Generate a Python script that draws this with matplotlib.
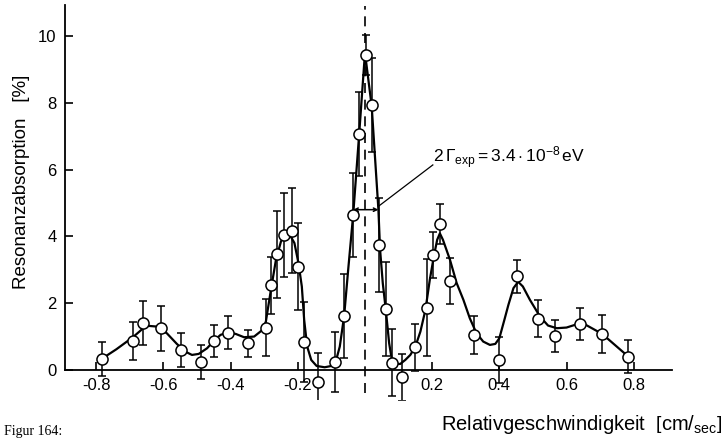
import matplotlib
matplotlib.use("Agg")
import matplotlib.pyplot as plt

plt.rcParams["font.family"] = ["Liberation Sans", "DejaVu Sans"]
plt.rcParams["mathtext.fontset"] = "custom"
plt.rcParams["mathtext.rm"] = "Liberation Sans"
plt.rcParams["mathtext.it"] = "Liberation Sans:italic"

# measured points: velocity [cm/sec], absorption [%], error
vel = [-0.784, -0.691, -0.660, -0.608, -0.549, -0.488, -0.449, -0.407, -0.347,
       -0.295, -0.280, -0.262, -0.241, -0.218, -0.200, -0.181, -0.139, -0.089,
       -0.062, -0.035, -0.017, 0.003, 0.020, 0.043, 0.0625, 0.079, 0.111,
       0.150, 0.184, 0.203, 0.223, 0.253, 0.326, 0.399, 0.453, 0.514, 0.565,
       0.641, 0.706, 0.784]
absorp = [0.33, 0.87, 1.40, 1.25, 0.60, 0.24, 0.88, 1.12, 0.80,
          1.27, 2.54, 3.46, 4.04, 4.17, 3.09, 0.85, -0.35, 0.23,
          1.62, 4.64, 7.07, 9.42, 7.93, 3.74, 1.83, 0.22, -0.22,
          0.68, 1.87, 3.44, 4.36, 2.67, 1.05, 0.30, 2.80, 1.53, 1.02,
          1.38, 1.08, 0.40]
err = [0.50, 0.58, 0.66, 0.67, 0.50, 0.50, 0.48, 0.50, 0.40,
       0.85, 0.85, 1.30, 1.25, 1.27, 1.30, 1.20, 0.85, 0.90,
       1.25, 1.25, 1.25, 0.60, 1.40, 1.40, 1.40, 1.00, 0.70,
       0.70, 1.45, 0.68, 0.60, 0.68, 0.56, 0.70, 0.50, 0.55, 0.47,
       0.47, 0.58, 0.50]

# hand drawn curve
curve_x = [-0.784, -0.74, -0.691, -0.66, -0.645, -0.62, -0.59, -0.56, -0.535,
           -0.515, -0.495, -0.47, -0.449, -0.43, -0.41, -0.385, -0.36, -0.33,
           -0.305, -0.295, -0.28, -0.265, -0.25, -0.235, -0.225, -0.21, -0.198,
           -0.188, -0.181, -0.172, -0.16, -0.144, -0.12, -0.1, -0.087, -0.075,
           -0.062, -0.05, -0.035, -0.017, 0.0, 0.02, 0.04, 0.045, 0.053, 0.062,
           0.072, 0.08, 0.093, 0.105, 0.12, 0.135, 0.15, 0.165, 0.18, 0.193,
           0.205, 0.215, 0.223, 0.232, 0.253, 0.273, 0.293, 0.312, 0.332,
           0.352, 0.372, 0.388, 0.4, 0.415, 0.427, 0.442, 0.456, 0.47, 0.491,
           0.521, 0.545, 0.571, 0.6, 0.625, 0.645, 0.706, 0.784]
curve_y = [0.33, 0.62, 0.98, 1.25, 1.32, 1.3, 1.1, 0.78, 0.55,
           0.45, 0.48, 0.65, 0.88, 1.05, 1.12, 1.08, 0.98, 1.0,
           1.2, 1.45, 2.4, 3.3, 3.85, 4.05, 4.07, 3.8, 3.2,
           2.5, 1.5, 0.7, 0.3, 0.12, 0.08, 0.12, 0.25, 0.7,
           1.62, 3.0, 4.66, 7.1, 9.5, 7.9, 4.8, 3.6, 2.6, 1.8,
           0.8, 0.3, 0.18, 0.18, 0.3, 0.45, 0.7, 1.15, 1.8, 2.7,
           3.4, 3.9, 4.09, 3.9, 3.3, 2.6, 2.1, 1.55, 1.1,
           0.85, 0.75, 0.78, 0.95, 1.5, 1.95, 2.45, 2.64, 2.5, 2.1,
           1.6, 1.33, 1.25, 1.27, 1.35, 1.42, 1.08, 0.4]

tick_pos = [-0.8, -0.6, -0.4, -0.2, 0.2, 0.4, 0.6, 0.8]
tick_lab = ["-0.8", "-0.6", "-0.4", "-0.2", "0.2", "0.4", "0.6", "0.8"]
ytick_pos = [0, 2, 4, 6, 8, 10]

fig = plt.figure(figsize=(7.25, 4.42), dpi=100)
ax = fig.add_axes([65 / 725, 1 - 400 / 442, 607 / 725, 395 / 442])

ax.plot(curve_x, curve_y, color="black", lw=1.6, zorder=2)
ax.errorbar(vel, absorp, yerr=err, fmt="o", ms=8, mfc="white", mec="black",
            mew=1.1, ecolor="black", elinewidth=1.1, capsize=3.2, capthick=1.1,
            zorder=3)

ax.plot([0, 0], [-0.7, 10.9], color="black", lw=1.2, ls=(0, (6, 4)), zorder=1)

# half width marker
ax.annotate("", xy=(-0.035, 4.8), xytext=(0.04, 4.8),
            arrowprops=dict(arrowstyle="<->", lw=1.1, color="black",
                            mutation_scale=6, shrinkA=0, shrinkB=0))
ax.plot([0.04, 0.202], [4.9, 6.14], color="black", lw=0.9)
ax.text(0.203, 5.95, r"$2\,\Gamma_{\mathrm{exp}} = 3.4\cdot 10^{-8}\,\mathrm{eV}$",
        fontsize=12.5, ha="left", va="bottom")

ax.set_xlim(-0.893, 0.914)
ax.set_ylim(-0.9, 10.93)
ax.spines["top"].set_visible(False)
ax.spines["right"].set_visible(False)
ax.spines["bottom"].set_position(("data", 0))
ax.spines["left"].set_bounds(0, 10.93)
for s in ["bottom", "left"]:
    ax.spines[s].set_linewidth(1.3)

ax.set_xticks(tick_pos)
ax.set_xticklabels(tick_lab)
ax.set_yticks(ytick_pos)
ax.tick_params(direction="in", length=6, width=1.2, labelsize=12, pad=6)

fig.text(22 / 725, 1 - 182 / 442, r"Resonanzabsorption   [%]", rotation=90,
         ha="center", va="center", fontsize=13.5)
fig.text(722 / 725, 1 - 424 / 442,
         r"Relativgeschwindigkeit  $\left[\mathrm{cm}/_{\mathrm{sec}}\right]$",
         ha="right", va="center", fontsize=14.5)
fig.text(4 / 725, 1 - 432 / 442, "Figur 164:", family="Liberation Serif",
         ha="left", va="center", fontsize=10)

fig.savefig("out.png", dpi=100)
